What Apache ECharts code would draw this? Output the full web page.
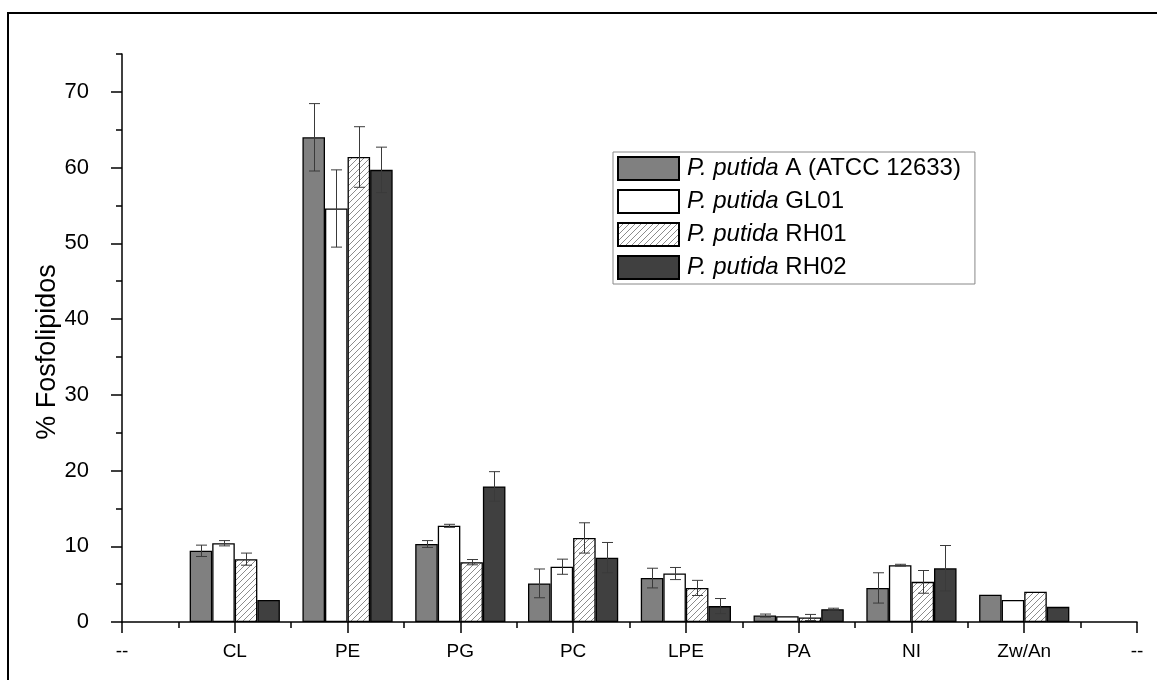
<!DOCTYPE html>
<html>
<head>
<meta charset="utf-8">
<script src="https://cdn.jsdelivr.net/npm/echarts@6/dist/echarts.min.js"></script>
<style>
  html, body { margin: 0; padding: 0; background: #fff; }
  #chart { width: 1157px; height: 680px; }
</style>
</head>
<body>
<div id="chart"></div>
<script>
// Phospholipid composition of four P. putida strains (% of total phospholipids)
const categories = ['--', 'CL', 'PE', 'PG', 'PC', 'LPE', 'PA', 'NI', 'Zw/An', '--'];
const seriesNames = ['P. putida A (ATCC 12633)', 'P. putida GL01', 'P. putida RH01', 'P. putida RH02'];

const valuesA    = [null, 9.4, 64.0, 10.3, 5.1, 5.8, 0.85, 4.5, 3.6, null];
const valuesGL01 = [null, 10.4, 54.6, 12.7, 7.3, 6.4, 0.75, 7.5, 2.9, null];
const valuesRH01 = [null, 8.3, 61.4, 7.9, 11.1, 4.5, 0.6, 5.3, 4.0, null];
const valuesRH02 = [null, 2.9, 59.7, 17.9, 8.5, 2.1, 1.7, 7.1, 2.0, null];

// standard deviations (null = no error bar drawn)
const errA    = [null, 0.75, 4.45, 0.45, 1.9, 1.3, 0.2, 2.0, null, null];
const errGL01 = [null, 0.35, 5.1, 0.2, 1.0, 0.8, null, 0.12, null, null];
const errRH01 = [null, 0.8, 4.0, 0.35, 2.0, 1.0, 0.4, 1.5, null, null];
const errRH02 = [null, null, 3.0, 1.95, 2.0, 1.0, 0.12, 3.0, null, null];

const yMajorTicks = [0, 10, 20, 30, 40, 50, 60, 70];
const yMinorTicks = [5, 15, 25, 35, 45, 55, 65, 75];
const xMinorTicks = [0.5, 1.5, 2.5, 3.5, 4.5, 5.5, 6.5, 7.5, 8.5];

const FONT = "'Liberation Sans', Arial, sans-serif";
const BAR_FRACTION = 0.2;

function hatchPattern() {
  const s = 6;
  const c = document.createElement('canvas');
  c.width = s; c.height = s;
  const ctx = c.getContext('2d');
  ctx.fillStyle = '#ffffff';
  ctx.fillRect(0, 0, s, s);
  ctx.strokeStyle = '#8c8c8c';
  ctx.lineWidth = 1;
  ctx.beginPath();
  ctx.moveTo(0, s); ctx.lineTo(s, 0);
  ctx.moveTo(-1, 1); ctx.lineTo(1, -1);
  ctx.moveTo(s - 1, s + 1); ctx.lineTo(s + 1, s - 1);
  ctx.stroke();
  return c;
}

const fills = ['#808080', '#ffffff', { image: hatchPattern(), repeat: 'repeat' }, '#404040'];
const allValues = [valuesA, valuesGL01, valuesRH01, valuesRH02];
const allErrors = [errA, errGL01, errRH01, errRH02];

function errorRenderer(idx) {
  return function (params, api) {
    const c = api.value(0), v = api.value(1), e = api.value(2);
    const band = api.size([1, 0])[0];
    const dx = (idx - 1.5) * band * BAR_FRACTION;
    const hi = api.coord([c, v + e]);
    const lo = api.coord([c, v - e]);
    const x = Math.round(hi[0] + dx) + 0.5;
    const cap = 5.5;
    const st = { stroke: '#3a3a3a', lineWidth: 1 };
    return {
      type: 'group',
      children: [
        { type: 'line', shape: { x1: x, y1: hi[1], x2: x, y2: lo[1] }, style: st },
        { type: 'line', shape: { x1: x - cap, y1: hi[1], x2: x + cap, y2: hi[1] }, style: st },
        { type: 'line', shape: { x1: x - cap, y1: lo[1], x2: x + cap, y2: lo[1] }, style: st }
      ]
    };
  };
}

const series = [];
seriesNames.forEach(function (name, i) {
  series.push({
    name: name,
    type: 'bar',
    xAxisIndex: 0,
    yAxisIndex: 0,
    barWidth: (BAR_FRACTION * 100) + '%',
    barGap: '0%',
    data: allValues[i],
    itemStyle: { color: fills[i], borderColor: '#000', borderWidth: 1.3 },
    emphasis: { disabled: true },
    z: 2
  });
});
seriesNames.forEach(function (name, i) {
  const pts = [];
  allErrors[i].forEach(function (e, k) {
    if (e != null && allValues[i][k] != null) pts.push([k, allValues[i][k], e]);
  });
  series.push({
    type: 'custom',
    xAxisIndex: 0,
    yAxisIndex: 0,
    renderItem: errorRenderer(i),
    data: pts,
    silent: true,
    z: 5
  });
});

const chart = echarts.init(document.getElementById('chart'), null, { renderer: 'canvas' });
chart.setOption({
  animation: false,
  backgroundColor: '#ffffff',
  textStyle: { fontFamily: FONT, color: '#000' },
  grid: { left: 122, right: 20, top: 54, bottom: 58, containLabel: false },
  legend: {
    orient: 'vertical',
    left: 613,
    top: 152,
    itemWidth: 61,
    itemHeight: 23,
    itemGap: 8,
    padding: [4, 14, 4, 4],
    borderColor: '#888',
    borderWidth: 1,
    icon: 'rect',
    selectedMode: false,
    data: seriesNames,
    textStyle: {
      fontFamily: FONT, fontSize: 24, color: '#000',
      rich: {
        it: { fontFamily: FONT, fontSize: 24, fontStyle: 'italic', color: '#000', padding: [0, 0, 0, 3] },
        n: { fontFamily: FONT, fontSize: 24, color: '#000' }
      }
    },
    formatter: function (name) {
      const lead = 'P. putida';
      return '{it|' + lead + '}{n| ' + name.slice(lead.length + 1) + '}';
    }
  },
  xAxis: [
    {
      type: 'category',
      data: categories,
      boundaryGap: false,
      axisLine: { lineStyle: { color: '#000', width: 1.5 } },
      axisTick: { show: true, length: 11, lineStyle: { color: '#000', width: 1.5 } },
      axisLabel: { interval: 0, fontSize: 19, color: '#000', margin: 20, fontFamily: FONT },
      splitLine: { show: false }
    },
    {
      type: 'value',
      min: 0,
      max: categories.length - 1,
      position: 'bottom',
      axisLine: { show: false },
      axisTick: { show: true, customValues: xMinorTicks, length: 6, lineStyle: { color: '#000', width: 1.5 } },
      axisLabel: { show: false },
      splitLine: { show: false }
    }
  ],
  yAxis: [
    {
      type: 'value',
      min: 0,
      max: 75,
      name: '% Fosfolipidos',
      nameLocation: 'middle',
      nameGap: 61,
      nameMoveOverlap: false,
      nameTextStyle: { fontSize: 27, color: '#000', fontFamily: FONT, padding: [0, 28, 0, 0] },
      axisLine: { show: true, lineStyle: { color: '#000', width: 1.5 } },
      axisTick: { show: true, customValues: yMajorTicks, length: 11, lineStyle: { color: '#000', width: 1.5 } },
      axisLabel: { customValues: yMajorTicks, fontSize: 22, color: '#000', margin: 33, fontFamily: FONT },
      splitLine: { show: false }
    },
    {
      type: 'value',
      min: 0,
      max: 75,
      position: 'left',
      axisLine: { show: false },
      axisTick: { show: true, customValues: yMinorTicks, length: 6, lineStyle: { color: '#000', width: 1.5 } },
      axisLabel: { show: false },
      splitLine: { show: false }
    }
  ],
  graphic: [
    {
      type: 'rect',
      silent: true,
      z: -10,
      shape: { x: 8, y: 13, width: 1200, height: 720 },
      style: { fill: null, stroke: '#000', lineWidth: 2 }
    }
  ],
  series: series
});
</script>
</body>
</html>
